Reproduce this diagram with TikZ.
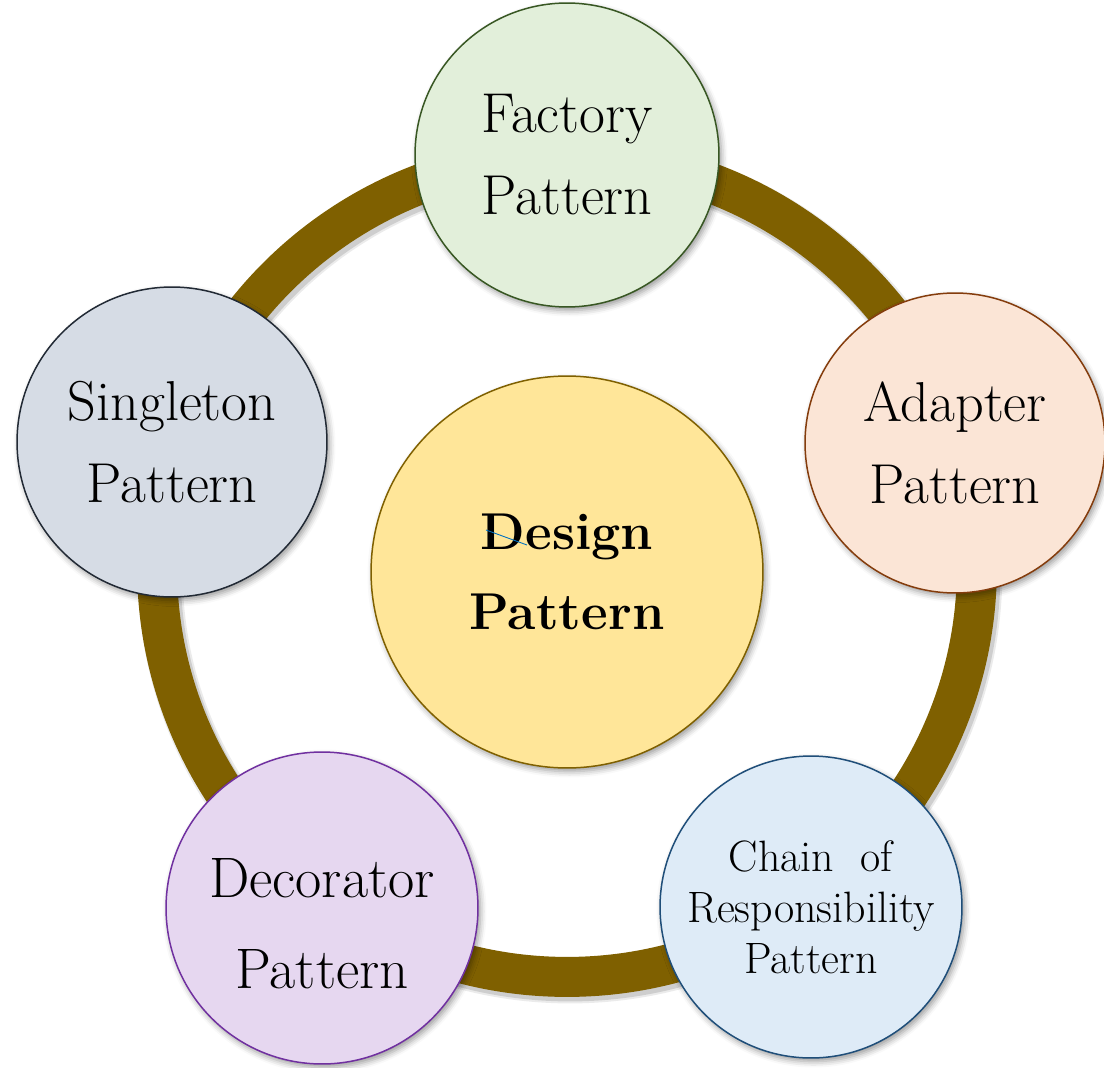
\documentclass[tikz,border=0pt]{standalone}
\usepackage{tikz}
\usetikzlibrary{
  shapes,
  shadows.blur,
  positioning
}
\definecolor{ringgold}{RGB}{127,96,0}
\definecolor{centerfill}{RGB}{255,230,153}
\definecolor{factfill}{RGB}{226,239,218}
\definecolor{factbrd}{RGB}{56,87,35}
\definecolor{adapfill}{RGB}{251,229,214}
\definecolor{adapbrd}{RGB}{132,60,12}
\definecolor{chainfill}{RGB}{222,235,247}
\definecolor{chainbrd}{RGB}{31,78,121}
\definecolor{decofill}{RGB}{230,215,240}
\definecolor{decobrd}{RGB}{112,48,160}
\definecolor{singfill}{RGB}{214,220,229}
\definecolor{singbrd}{RGB}{34,42,53}
\definecolor{strayblue}{RGB}{0,112,192}
\tikzset{every picture/.style={line width=0.75pt}}
\tikzset{
  patt/.style={circle, draw, inner sep=0pt, align=center, line width=0.85pt,
    blur shadow={shadow xshift=0.05cm, shadow yshift=-0.07cm,
      shadow blur radius=0.12cm, shadow opacity=40}},
  bigtext/.style={font=\fontsize{32}{46.7}\selectfont},
  pattlabel/.style={align=center, inner sep=0pt}
}

\begin{document}
\begin{tikzpicture}[x=0.02cm, y=-0.02cm]
\useasboundingbox (0,0) rectangle (1104,1067);

% Ring
\coordinate (ringc) at (567,567);
\draw[black, opacity=0.08, line width=0.9cm] ([shift={(3,4)}]ringc) circle[radius=8.2cm];
\draw[black, opacity=0.12, line width=0.82cm] ([shift={(3,4)}]ringc) circle[radius=8.2cm];
\draw[ringgold, line width=0.8cm] (ringc) circle[radius=8.2cm];

% Centre
\node[patt, draw=ringgold, fill=centerfill, minimum size=7.84cm,
  font=\bfseries\fontsize{29.5}{45.5}\selectfont] (design) at (567,572) {Design\\Pattern};
\draw[strayblue, line width=0.5pt] (486,530) -- (527,545);

% Factory
\node[patt, bigtext, draw=factbrd, fill=factfill, minimum size=6.08cm] (factory) at (567,155) {Factory\\Pattern};

% Adapter
\node[patt, bigtext, draw=adapbrd, fill=adapfill, minimum size=6.0cm] (adapter) at (955,443) {Adapter\\Pattern};

% Chain of Responsibility
\node[patt, draw=chainbrd, fill=chainfill, minimum size=6.04cm,
  font=\fontsize{25}{29}\selectfont] (chain) at (811,907) {Chain~~of\\Responsibility\\Pattern};

% Decorator
\node[patt, draw=decobrd, fill=decofill, minimum size=6.24cm] (decorator) at (322,908) {};
\node[pattlabel, font=\fontsize{32.5}{51.8}\selectfont] (decotext) at ([yshift=-0.32cm]decorator.center) {Decorator\\Pattern};

% Singleton
\node[patt, bigtext, draw=singbrd, fill=singfill, minimum size=6.2cm] (singleton) at (172,442) {Singleton\\Pattern};
\end{tikzpicture}
\end{document}
